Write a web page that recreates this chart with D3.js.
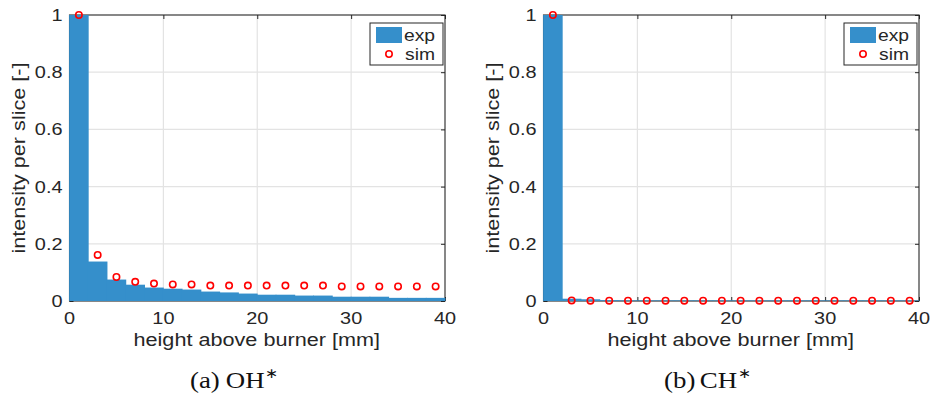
<!DOCTYPE html>
<html>
<head>
<meta charset="utf-8">
<script src="https://cdn.jsdelivr.net/npm/d3@7"></script>
<style>
html,body{margin:0;padding:0;background:#fff;}
text{font-family:"Liberation Sans",Arial,Helvetica,sans-serif;fill:#262626;}
</style>
</head>
<body>
<svg id="chart" width="930" height="399"></svg>
<script>
// ---- data ----
const binCenters = [1,3,5,7,9,11,13,15,17,19,21,23,25,27,29,31,33,35,37,39];
const ohExp = [1.0,0.138,0.075,0.057,0.047,0.043,0.040,0.033,0.030,0.026,0.022,0.022,0.019,0.019,0.015,0.015,0.015,0.011,0.011,0.011];
const ohSim = [1.0,0.161,0.084,0.067,0.061,0.058,0.058,0.054,0.054,0.054,0.054,0.054,0.054,0.054,0.051,0.051,0.051,0.051,0.051,0.051];
const chExp = [1.0,0.008,0.006,0.003,0.002,0.002,0.002,0.002,0.002,0.002,0.002,0.002,0.002,0.002,0.002,0.002,0.002,0.002,0.002,0.002];
const chSim = [1.0,0.002,0.001,0.001,0.001,0.001,0.001,0.001,0.001,0.001,0.001,0.001,0.001,0.001,0.001,0.001,0.001,0.001,0.001,0.001];
const xTicks = [0,10,20,30,40];
const yTicks = [0,0.2,0.4,0.6,0.8,1];
const yTickLabels = ["0","0.2","0.4","0.6","0.8","1"];
const binWidth = 2;
const xLabel = "height above burner [mm]";
const yLabel = "intensity per slice [-]";
const legendLabels = ["exp","sim"];
const panels = [
  {tag:"(a)", species:"OH", exp:ohExp, sim:ohSim, x0:69.5, x1:445},
  {tag:"(b)", species:"CH", exp:chExp, sim:chSim, x0:543.5, x1:919}
];

const svg = d3.select("#chart");
const barColor = "#358fcb";
const SX = 1.17; // horizontal glyph stretch

function label(g, x, y, str, size, anchor, rot) {
  const t = g.append("text")
    .attr("transform", `translate(${x},${y}) rotate(${rot||0}) scale(${SX},1)`)
    .attr("font-size", size)
    .attr("text-anchor", anchor || "middle")
    .text(str);
  return t;
}

panels.forEach(p => {
  const x = d3.scaleLinear().domain([0,40]).range([p.x0, p.x1]);
  const y = d3.scaleLinear().domain([0,1]).range([301, 15]);
  const g = svg.append("g");

  // grid
  g.selectAll(".gx").data(xTicks.slice(1,-1)).join("line")
    .attr("x1", d=>x(d)).attr("x2", d=>x(d)).attr("y1", y(0)).attr("y2", y(1))
    .attr("stroke","#e3e3e3").attr("stroke-width",1.2);
  g.selectAll(".gy").data(yTicks.slice(1,-1)).join("line")
    .attr("x1", x(0)).attr("x2", x(40)).attr("y1", d=>y(d)).attr("y2", d=>y(d))
    .attr("stroke","#e3e3e3").attr("stroke-width",1.2);

  // axes box
  g.append("rect").attr("x", x(0)).attr("y", y(1))
    .attr("width", x(40)-x(0)).attr("height", y(0)-y(1))
    .attr("fill","none").attr("stroke","#262626").attr("stroke-width",1.1);

  // inner ticks via d3 axes
  const axB = d3.axisBottom(x).tickValues(xTicks).tickSize(-4).tickFormat("");
  const axT = d3.axisTop(x).tickValues(xTicks).tickSize(-4).tickFormat("");
  const axL = d3.axisLeft(y).tickValues(yTicks).tickSize(-4).tickFormat("");
  const axR = d3.axisRight(y).tickValues(yTicks).tickSize(-4).tickFormat("");
  [[axB,`translate(0,${y(0)})`],[axT,`translate(0,${y(1)})`],[axL,`translate(${x(0)},0)`],[axR,`translate(${x(40)},0)`]]
    .forEach(([ax,tr]) => {
      const a = g.append("g").attr("transform", tr).call(ax);
      a.select(".domain").remove();
      a.selectAll("line").attr("stroke","#262626").attr("stroke-width",1);
    });

  // bars (slight overlap to avoid anti-aliasing seams)
  g.selectAll(".bar").data(binCenters.map((c,i)=>({c, v:p.exp[i]}))).join("rect")
    .attr("x", d=>x(d.c - binWidth/2) - 0.4)
    .attr("width", d=>x(d.c + binWidth/2) - x(d.c - binWidth/2) + 0.8)
    .attr("y", d=>y(d.v)).attr("height", d=>y(0)-y(d.v))
    .attr("fill", barColor);

  // sim markers
  g.selectAll(".pt").data(binCenters.map((c,i)=>({c, v:p.sim[i]}))).join("circle")
    .attr("cx", d=>x(d.c)).attr("cy", d=>y(d.v)).attr("r", 3.2)
    .attr("fill","none").attr("stroke","#ff0000").attr("stroke-width",1.6);

  // tick labels
  xTicks.forEach(t => label(g, x(t), 324, String(t), 17, "middle"));
  yTicks.forEach((t,i) => label(g, x(0)-7, y(t)+6, yTickLabels[i], 17, "end"));

  // axis labels
  label(g, (p.x0+p.x1)/2 - 0.5, 346, xLabel, 18.5, "middle");
  label(g, p.x0 - 45, (y(0)+y(1))/2, yLabel, 18.5, "middle", -90);

  // legend
  const lx = x(40) - 75, ly = 23;
  g.append("rect").attr("x", lx).attr("y", ly).attr("width", 73).attr("height", 42)
    .attr("fill","#fff").attr("stroke","#262626").attr("stroke-width",1);
  g.append("rect").attr("x", lx+6).attr("y", ly+4).attr("width", 26).attr("height", 16).attr("fill", barColor);
  g.append("circle").attr("cx", lx+19).attr("cy", ly+31).attr("r",3.2)
    .attr("fill","none").attr("stroke","#ff0000").attr("stroke-width",1.6);
  label(g, lx+34, ly+18, legendLabels[0], 16.5, "start");
  label(g, lx+35, ly+37, legendLabels[1], 16.5, "start");

  // caption
  const cx = p.x0 + 120.5;
  const cap = g.append("text")
    .attr("transform", `translate(${cx},388) scale(1.12,1)`)
    .attr("font-size", 24).attr("style","font-family:'Liberation Serif','Times New Roman',serif;fill:#111");
  cap.append("tspan").text(p.tag);
  cap.append("tspan").attr("x", 32).text(p.species);
  cap.append("tspan").attr("dx", 0.5).attr("dy", -10).attr("font-size", 14).text("∗");
});
</script>
</body>
</html>
